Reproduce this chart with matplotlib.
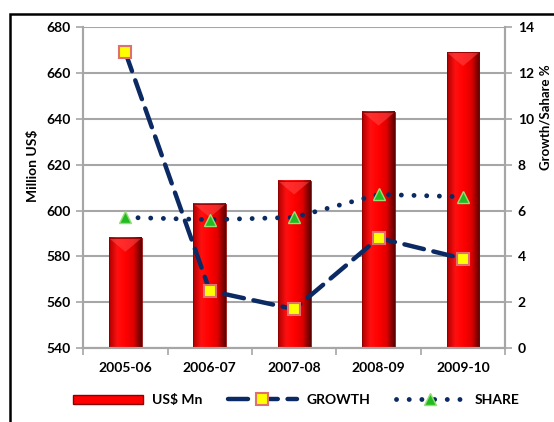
import numpy as np
import matplotlib
matplotlib.use("Agg")
import matplotlib.pyplot as plt
from matplotlib.patches import Rectangle, Patch
from matplotlib.lines import Line2D
from matplotlib.colors import LinearSegmentedColormap

# -----------------------------
# Data
# -----------------------------
years = ["2005-06", "2006-07", "2007-08", "2008-09", "2009-10"]
usd_mn = [588, 603, 613, 643, 669]
growth = [12.9, 2.5, 1.7, 4.8, 3.9]
share = [5.7, 5.6, 5.7, 6.7, 6.6]

NAVY = "#0b2a63"
GRID = "#a6a6a6"

plt.rcParams["font.family"] = ["Lato", "DejaVu Sans"]
plt.rcParams["font.weight"] = "bold"

fig = plt.figure(figsize=(5.54, 4.22), dpi=100)
ax = fig.add_axes([0.150, 0.175, 0.762, 0.761])
ax2 = ax.twinx()

x = np.arange(len(years))
bar_w = 0.39

# bars with a simple horizontal shading to mimic the bevelled look
bar_cmap = LinearSegmentedColormap.from_list(
    "bar", ["#b00000", "#ff1010", "#ff0000", "#e00000", "#5a0000"])
grad = np.linspace(0, 1, 64).reshape(1, -1)
ax.set_xlim(-0.5, len(years) - 0.5)
ax.set_ylim(540, 680)
for xi, v in zip(x, usd_mn):
    x0, x1 = xi - bar_w / 2, xi + bar_w / 2
    ax.imshow(grad, cmap=bar_cmap, aspect="auto", extent=(x0, x1, 540, v),
              zorder=2, interpolation="bilinear")
    # top bevel
    ax.fill([x0, x1, xi], [v, v, v - 6], color="#ff5050", alpha=0.5, zorder=3, lw=0)
    ax.add_patch(Rectangle((x0, 540), bar_w, v - 540, fill=False,
                           ec="#8a0000", lw=0.6, zorder=3))
ax.set_aspect("auto")

# lines on the secondary axis
ax2.plot(x, growth, color=NAVY, lw=3.2, dashes=(4.5, 2.2), dash_capstyle="round",
         marker="s", ms=8.5, mfc="#ffff00", mec="#e07070", mew=1.5, zorder=5)
ax2.plot(x, share, color=NAVY, lw=3.5, dashes=(0.01, 2.6), dash_capstyle="round",
         marker="^", ms=8, mfc="#22bb22", mec="#99dd77", mew=1, zorder=5)
ax2.set_ylim(0, 14)

# axes styling
ax.set_yticks(np.arange(540, 681, 20))
ax2.set_yticks(np.arange(0, 15, 2))
ax.set_xticks(x)
ax.set_xticklabels(years)
ax.set_xticks(np.arange(-0.5, len(years), 1), minor=True)
ax.tick_params(axis="x", which="major", length=0, pad=10, labelsize=10)
ax.tick_params(axis="x", which="minor", length=5, color=GRID, width=1.2)
ax.tick_params(axis="y", length=5, color=GRID, width=1.2, labelsize=10, pad=4)
ax2.tick_params(axis="y", length=5, color=GRID, width=1.2, labelsize=10, pad=4)
ax.grid(axis="y", color=GRID, lw=1.5, zorder=0)
ax.set_axisbelow(True)
for a in (ax, ax2):
    a.spines["top"].set_visible(False)
    for s in ("left", "right", "bottom"):
        a.spines[s].set_color(GRID)
        a.spines[s].set_linewidth(1.5)

fig.text(33 / 554, 1 - 166 / 422, "Million US$", rotation=90, ha="center",
         va="center", fontsize=10, fontweight="bold")
fig.text(546 / 554, 1 - 117 / 422, "Growth/Sahare %", rotation=90, ha="center",
         va="center", fontsize=9.5, fontweight="bold")

# legend
handles = [
    Patch(facecolor="#ff0000", edgecolor="#8a0000", lw=1),
    Line2D([], [], color=NAVY, lw=3.2, dashes=(4.5, 2.2), dash_capstyle="round",
           marker="s", ms=8.5, mfc="#ffff00", mec="#e07070", mew=1.5),
    Line2D([], [], color=NAVY, lw=3.5, dashes=(0.01, 2.6), dash_capstyle="round",
           marker="^", ms=8, mfc="#22bb22", mec="#99dd77", mew=1),
]
fig.legend(handles, ["US$ Mn", "GROWTH", "SHARE"], loc="center",
           bbox_to_anchor=(0.535, 0.052), ncol=3, frameon=False,
           handlelength=5, handleheight=0.6, columnspacing=1.8, fontsize=10,
           handletextpad=0.7)

# outer border
fig.patches.append(Rectangle((10 / 554, -0.2), 1.2, 1.2 - 14 / 422,
                             transform=fig.transFigure, fill=False,
                             ec="black", lw=1.8))

fig.savefig("out.png", dpi=100)
